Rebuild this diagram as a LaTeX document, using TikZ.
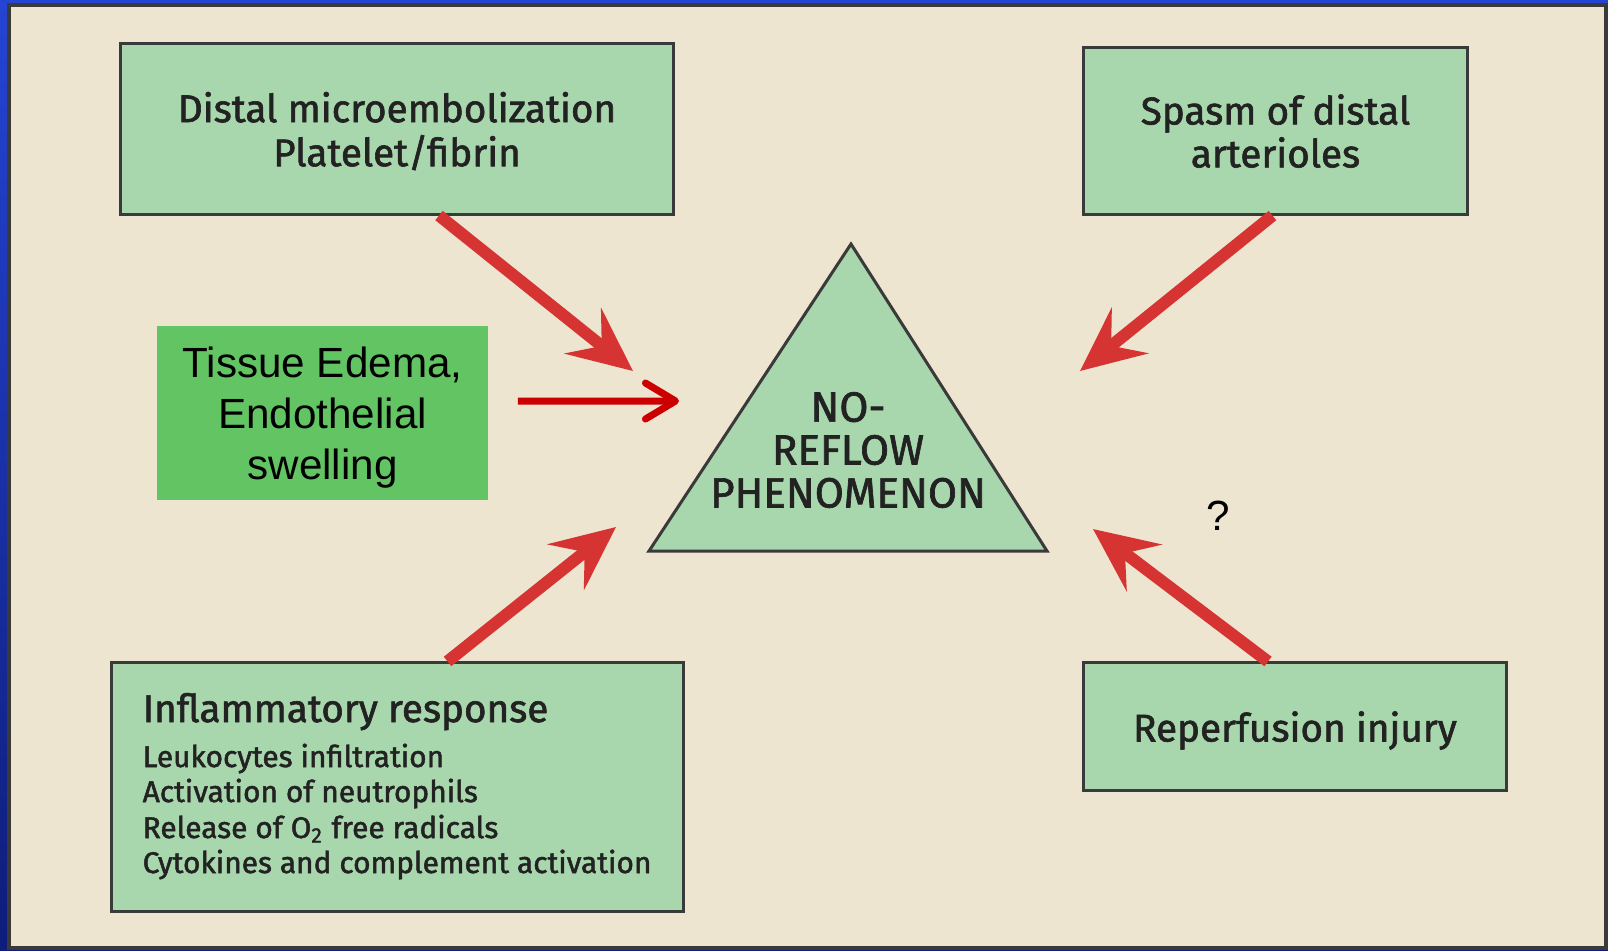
\documentclass[tikz,border=0pt]{standalone}
\usepackage{fontspec}
\setmainfont{Liberation Sans}
\newfontfamily\fira[FakeBold=1.6]{Fira Sans}
\usetikzlibrary{arrows.meta}
\definecolor{panel}{HTML}{EDE5CF}
\definecolor{boxgreen}{HTML}{A9D7AD}
\definecolor{edemagreen}{HTML}{62C462}
\definecolor{arrowred}{HTML}{D63333}
\definecolor{darkred}{HTML}{CC0000}
\definecolor{edge}{HTML}{3A3A3A}
\definecolor{txt}{HTML}{222222}
\definecolor{bluetop}{HTML}{2444D4}
\definecolor{bluebot}{HTML}{0E1C7A}
\newcommand\lowerby[2]{\raisebox{-#1}[\height][\depth]{#2}}
\begin{document}
\begin{tikzpicture}[x=0.01cm,y=-0.01cm,
  gbox/.style={draw=edge, fill=boxgreen, line width=0.03cm, inner sep=0pt, align=center, text=txt,
    font={\fira\fontsize{11}{12.2}\selectfont}},
  lbl/.style={text=txt, inner sep=0pt, font={\fira\fontsize{11}{12.2}\selectfont}},
  small/.style={text=txt, inner sep=0pt, anchor=base west, font={\fira\fontsize{8.5}{10}\selectfont}},
  fat/.style={draw=arrowred, line width=0.12cm, -{Stealth[length=0.64cm,width=0.58cm,inset=0.24cm]}},
  thin/.style={draw=darkred, line width=0.07cm, -{Straight Barb[length=0.3cm,width=0.36cm,round]}}]
\useasboundingbox (0,0) rectangle (1608,950);
\shade[top color=bluetop, bottom color=bluebot] (0,0) rectangle (1608,950);
\draw[fill=panel, draw=edge, line width=0.035cm] (9,5) rectangle (1606,948);

% boxes
\node[gbox, minimum width=5.52cm, minimum height=1.70cm] (box1) at (397,129) {\lowerby{0.065cm}{\begin{tabular}{@{}c@{}}Distal microembolization\\Platelet/fibrin\end{tabular}}};
\node[gbox, minimum width=3.83cm, minimum height=1.66cm] (box2) at (1275.5,131) {Spasm of distal\\arterioles};
\node[gbox, minimum width=5.71cm, minimum height=2.48cm] (box3) at (397.5,787) {};
\node[gbox, minimum width=4.22cm, minimum height=1.27cm] (box4) at (1295,726.5) {\lowerby{0.04cm}{Reperfusion injury}};

\node[lbl, anchor=base west] (t3a) at (142,722) {Inflammatory response};
\node[small] (t3b) at (142,767) {Leukocytes infiltration};
\node[small] (t3c) at (142,802) {Activation of neutrophils};
\node[small] (t3d) at (142,838) {Release of O\textsubscript{2} free radicals};
\node[small] (t3e) at (142,873) {Cytokines and complement activation};

\node[fill=edemagreen, minimum width=3.31cm, minimum height=1.74cm, inner sep=0pt, align=center,
  font={\fontsize{12}{14.5}\selectfont}] (edema) at (322.5,413) {\lowerby{0.05cm}{\begin{tabular}{@{}c@{}}Tissue Edema,\\Endothelial\\swelling\end{tabular}}};

% triangle
\draw[draw=edge, fill=boxgreen, line width=0.03cm, line join=miter] (649,551) -- (851,244) -- (1047,551) -- cycle;
\node[lbl, align=center, font={\fira\fontsize{12}{12.2}\selectfont}] (tri) at (848,450) {NO-\\REFLOW\\PHENOMENON};

\node[inner sep=0pt, font={\fontsize{12}{14}\selectfont}] (q) at (1218,516) {?};

% arrow tips
\coordinate (t1) at (633,371);
\coordinate (t2) at (1080,371);
\coordinate (t3) at (616,527);
\coordinate (t4) at (1093,529);
\coordinate (t5) at (679,401);

\draw[fat] ([xshift=0.42cm]box1.south) -- (t1);
\draw[fat] ([xshift=-0.03cm]box2.south) -- (t2);
\draw[fat] ([xshift=0.5cm]box3.north) -- (t3);
\draw[fat] ([xshift=-0.27cm]box4.north) -- (t4);
\draw[thin] ([xshift=0.29cm,yshift=0.12cm]edema.east) -- (t5);
\end{tikzpicture}
\end{document}
